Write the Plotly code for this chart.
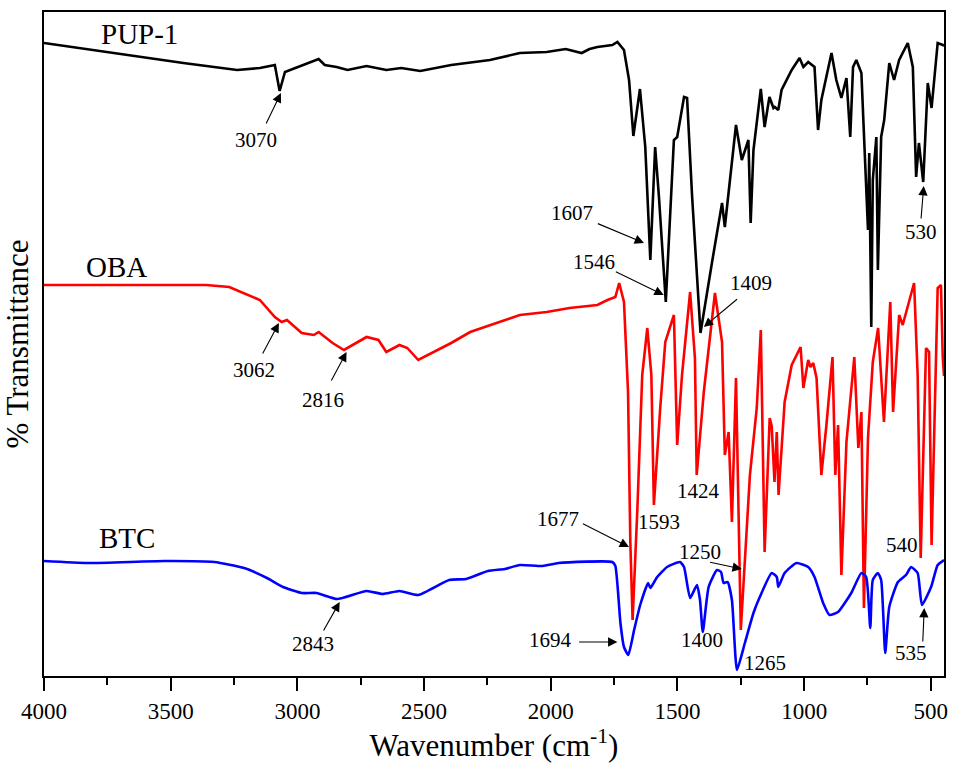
import plotly.graph_objects as go

# ---------------- data (wavenumber in cm-1, transmittance in arbitrary offset units) ----------------
wn_pup = [4000, 3678, 3450, 3238, 3148, 3089, 3070, 3049, 2998, 2916,
          2892, 2845, 2802, 2727, 2649, 2590, 2515, 2393, 2240, 2122,
          2016, 1941, 1878, 1847, 1816, 1757, 1737, 1711, 1691, 1674,
          1648, 1627, 1607, 1588, 1573, 1546, 1514, 1501, 1474, 1462,
          1442, 1409, 1364, 1324, 1313, 1293, 1269, 1246, 1220, 1211,
          1200, 1171, 1156, 1137, 1121, 1116, 1102, 1089, 1049, 1018,
          1003, 984, 959, 945, 932, 892, 873, 853, 833, 818,
          807, 794, 774, 763, 748, 743, 735, 729, 715, 709,
          696, 684, 664, 645, 625, 591, 571, 558, 547, 530,
          512, 497, 473, 453, 448]
t_pup = [633, 621, 613, 606, 608, 611, 585, 604, 609, 617,
         611, 609, 606, 610, 606, 608, 605, 611, 616, 623,
         624, 627, 623, 627, 629, 631, 634, 626, 596, 540,
         587, 529, 416, 529, 479, 374, 536, 539, 579, 578,
         479, 343, 413, 473, 449, 493, 551, 516, 536, 453,
         526, 587, 549, 579, 568, 569, 566, 586, 606, 618,
         609, 614, 609, 546, 576, 623, 596, 578, 598, 539,
         609, 616, 603, 536, 446, 523, 349, 496, 539, 406,
         539, 556, 613, 596, 616, 633, 609, 499, 533, 494,
         593, 568, 633, 631, 630]

wn_oba = [4000, 3360, 3269, 3148, 3089, 3062, 3041, 2983, 2935, 2916,
          2861, 2816, 2727, 2680, 2649, 2597, 2566, 2523, 2393, 2318,
          2122, 2016, 1926, 1816, 1776, 1745, 1730, 1711, 1695, 1686,
          1677, 1658, 1639, 1619, 1603, 1593, 1568, 1548, 1514, 1501,
          1482, 1450, 1431, 1424, 1396, 1352, 1324, 1313, 1298, 1285,
          1269, 1250, 1214, 1187, 1171, 1156, 1136, 1128, 1117, 1108,
          1101, 1077, 1049, 1014, 1003, 984, 975, 964, 951, 932,
          912, 888, 877, 866, 853, 833, 802, 786, 774, 764,
          748, 729, 708, 685, 660, 649, 625, 611, 566, 552,
          540, 519, 507, 497, 473, 460, 453, 448]
t_oba = [391, 391, 389, 376, 359, 354, 356, 343, 341, 344,
         333, 326, 339, 336, 324, 331, 328, 316, 333, 344,
         361, 364, 368, 371, 376, 379, 393, 374, 284, 134,
         56, 168, 301, 348, 301, 171, 268, 334, 361, 231,
         301, 384, 318, 201, 284, 383, 334, 221, 244, 154,
         298, 46, 201, 268, 346, 124, 258, 250, 194, 244,
         181, 274, 311, 329, 288, 316, 309, 313, 298, 201,
         251, 319, 201, 251, 101, 234, 319, 228, 264, 68,
         238, 314, 348, 254, 374, 264, 361, 351, 393, 301,
         118, 328, 324, 131, 388, 391, 319, 300]

wn_btc = [4000, 3827, 3525, 3328, 3210, 3120, 3057, 2983, 2924, 2843,
          2727, 2664, 2597, 2523, 2401, 2334, 2248, 2181, 2122, 2032,
          1969, 1757, 1745, 1725, 1711, 1694, 1671, 1647, 1616, 1607,
          1580, 1541, 1490, 1474, 1450, 1423, 1411, 1400, 1377, 1344,
          1328, 1318, 1302, 1285, 1265, 1234, 1200, 1175, 1128, 1108,
          1102, 1077, 1030, 984, 959, 925, 900, 866, 814, 774,
          755, 739, 729, 709, 696, 680, 664, 630, 598, 578,
          552, 535, 499, 473, 453, 448]
t_btc = [115, 113, 115, 114, 108, 98, 89, 83, 83, 77,
         85, 82, 85, 81, 96, 97, 105, 107, 111, 110,
         113, 114, 110, 53, 29, 21, 46, 71, 93, 88,
         99, 109, 114, 109, 78, 91, 76, 44, 89, 106,
         104, 93, 94, 76, 6, 33, 63, 79, 103, 99,
         89, 103, 113, 109, 99, 73, 61, 64, 83, 103,
         99, 48, 96, 103, 96, 23, 69, 94, 101, 109,
         103, 71, 89, 111, 115, 116]

x_ticks = [4000, 3500, 3000, 2500, 2000, 1500, 1000, 500]
x_minor = [3750, 3250, 2750, 2250, 1750, 1250, 750]

series_labels = [("PUP-1", 3625, 642), ("OBA", 3715, 409), ("BTC", 3674, 138)]

# peak labels: text, text position (wn, T), arrow tail (wn, T) or None, arrow tip (wn, T) or None
peak_labels = [
    ("3070", (3163, 536), (3126, 551), (3065, 583)),
    ("3062", (3171, 306), (3140, 321), (3073, 353)),
    ("2816", (2900, 276), (2869, 294), (2806, 324)),
    ("2843", (2937, 32), (2900, 44), (2833, 74)),
    ("1607", (1918, 463), (1820, 453), (1632, 433)),
    ("1546", (1828, 414), (1749, 405), (1554, 381)),
    ("1409", (1211, 393), (1259, 378), (1396, 349)),
    ("530", (539, 444), (539, 456), (528, 490)),
    ("1593", (1573, 154), None, None),
    ("1424", (1416, 185), None, None),
    ("1677", (1973, 157), (1879, 153), (1691, 129)),
    ("1250", (1411, 124), (1377, 114), (1246, 107)),
    ("1694", (2000, 36), (1894, 34), (1737, 34)),
    ("1400", (1403, 36), None, None),
    ("1265", (1155, 13), None, None),
    ("540", (613, 131), None, None),
    ("535", (578, 23), (532, 33), (526, 68)),
]

FONT = "Liberation Serif"

fig = go.Figure()
fig.add_trace(go.Scatter(x=wn_pup, y=t_pup, mode="lines", name="PUP-1",
                         line=dict(color="#000000", width=2.6)))
fig.add_trace(go.Scatter(x=wn_oba, y=t_oba, mode="lines", name="OBA",
                         line=dict(color="#ff0000", width=2.6)))
fig.add_trace(go.Scatter(x=wn_btc, y=t_btc, mode="lines", name="BTC",
                         line=dict(color="#0000ff", width=2.6, shape="spline", smoothing=0.5)))

annotations = []
for name, x, y in series_labels:
    annotations.append(dict(x=x, y=y, xref="x", yref="y", text=name, showarrow=False,
                            font=dict(family=FONT, size=29, color="black")))
for txt, tpos, tail, tip in peak_labels:
    annotations.append(dict(x=tpos[0], y=tpos[1], xref="x", yref="y", text=txt, showarrow=False,
                            font=dict(family=FONT, size=21, color="black")))
    if tail is not None:
        annotations.append(dict(x=tip[0], y=tip[1], xref="x", yref="y",
                                ax=tail[0], ay=tail[1], axref="x", ayref="y",
                                text="", showarrow=True, arrowhead=2, arrowsize=1.7,
                                arrowwidth=1.1, arrowcolor="black", standoff=0, startstandoff=0))

fig.update_layout(
    width=957, height=769,
    margin=dict(l=44, r=9, t=12, b=93),
    paper_bgcolor="white", plot_bgcolor="white",
    showlegend=False,
    annotations=annotations,
    xaxis=dict(
        range=[4000, 448], showgrid=False, zeroline=False,
        showline=True, linecolor="black", linewidth=2, mirror=True,
        tickmode="array", tickvals=x_ticks, ticktext=[str(v) for v in x_ticks],
        ticks="outside", ticklen=13, tickwidth=2, tickcolor="black",
        tickfont=dict(family=FONT, size=23, color="black"),
        minor=dict(tickvals=x_minor, ticks="outside", ticklen=7, tickwidth=2, tickcolor="black"),
        title=dict(text="Wavenumber (cm<sup>-1</sup>)", standoff=6,
                   font=dict(family=FONT, size=31, color="black")),
    ),
    yaxis=dict(
        range=[0, 664], showgrid=False, zeroline=False,
        showline=True, linecolor="black", linewidth=2, mirror=True,
        showticklabels=False, ticks="",
        title=dict(text="% Transmittance", standoff=6,
                   font=dict(family=FONT, size=31, color="black")),
    ),
)

fig.write_html("out.html")
